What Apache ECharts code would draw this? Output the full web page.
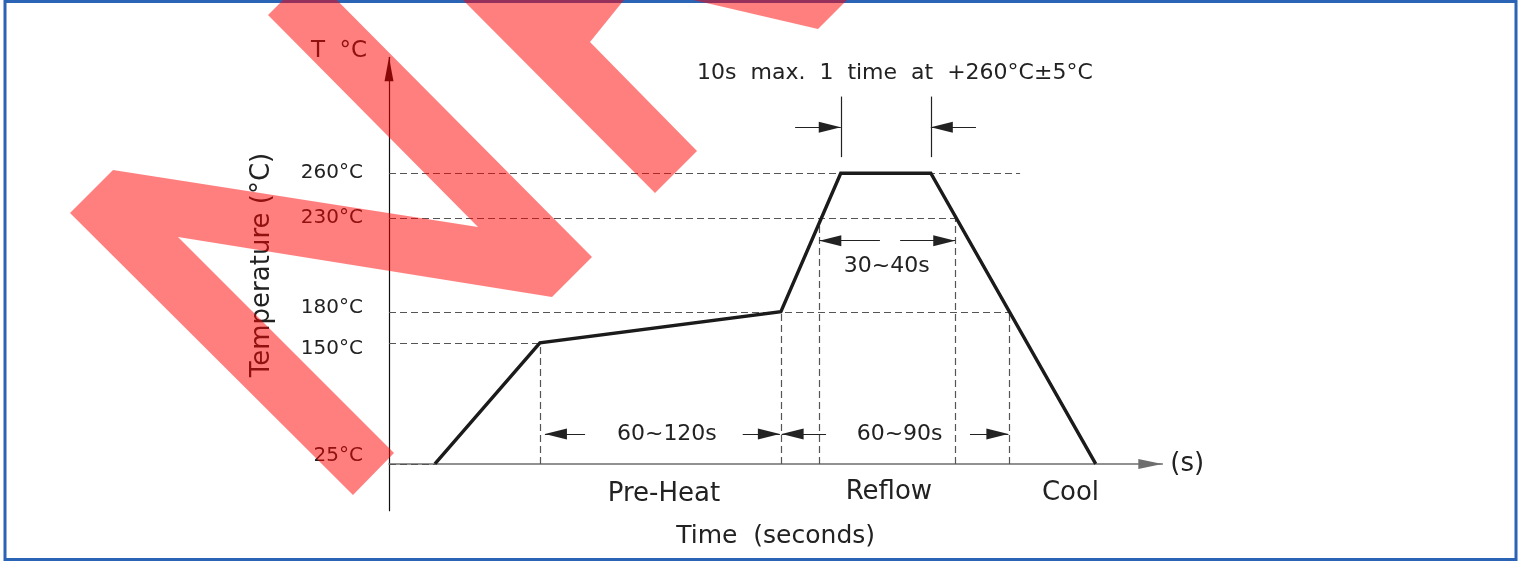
<!DOCTYPE html>
<html><head><meta charset="utf-8">
<script src="https://cdn.jsdelivr.net/npm/echarts@6/dist/echarts.min.js"></script>
<style>html,body{margin:0;padding:0;background:#fff}#c{width:1519px;height:561px}</style>
</head><body><div id="c"></div>
<script>
// Temperature levels (°C) marked on the y axis
const tempLevels = [25, 150, 180, 230, 260];
// Reflow profile (schematic time in s, temperature in °C)
const profileTime = [18.4, 60.5, 157.1, 181.1, 217.2, 283.3];
const profileTemp = [25, 150, 180, 260, 260, 25];
// Dashed level guides: level and the time where the guide ends
const guideLevel = [260, 230, 180, 150, 25];
const guideEnd = [253.0, 226.9, 248.5, 60.5, 18.4];
// Vertical dashed drops: time and the temperature they rise to
const dropTime = [60.5, 157.1, 172.5, 226.9, 248.5];
const dropTemp = [150, 180, 230, 230, 180];
// Dimension arrows: tail time, tip time, temperature level
const arrowTail = [162.8, 235.3, 196.8, 204.9, 78.6, 141.8, 175.2, 232.9];
const arrowTip  = [181.1, 217.2, 172.5, 227.0, 62.5, 156.7, 157.4, 248.3];
const arrowTemp = [284.6, 284.6, 218.0, 218.0, 41, 41, 41, 41];
// Extension lines of the 10 s window
const extTime = [181.1, 217.2];
const extTemp = [268.6, 301.0];
// Annotation texts
const noteText = ['10s  max.  1  time  at  +260°C±5°C', '30~40s', '60~120s', '60~90s', 'Pre-Heat', 'Reflow', 'Cool'];
const noteTime = [202.8, 199.5, 111.4, 204.7, 110.2, 200.4, 273.2];
const noteTemp = [313.5, 204.1, 41, 41, 8.8, 9.9, 9.3];
const noteSize = [22, 22, 22, 22, 26, 26, 26];

const FONT = 'DejaVu Sans';
const chart = echarts.init(document.getElementById('c'));

const guides = [];
guideLevel.forEach((v, i) => guides.push([{coord: [0, v]}, {coord: [guideEnd[i], v]}]));
dropTime.forEach((t, i) => guides.push([{coord: [t, 25]}, {coord: [t, dropTemp[i]]}]));

const arrows = [];
arrowTail.forEach((t, i) => arrows.push([
  {coord: [t, arrowTemp[i]], symbol: 'none'},
  {coord: [arrowTip[i], arrowTemp[i]], symbol: 'triangle', symbolSize: [11, 22], symbolOffset: [0, 11]}
]));
extTime.forEach(t => arrows.push([
  {coord: [t, extTemp[0]], symbol: 'none'},
  {coord: [t, extTemp[1]], symbol: 'none'}
]));

const labelRich = {
  base: {fontSize: 20, color: '#222', fontFamily: FONT},
  up: {fontSize: 20, color: '#222', fontFamily: FONT, padding: [0, 0, 16, 0]},
  up2: {fontSize: 20, color: '#222', fontFamily: FONT, padding: [0, 0, 8, 0]},
  down: {fontSize: 20, color: '#222', fontFamily: FONT, padding: [12, 0, 0, 0]}
};
const labelKey = {25: 'up', 150: 'down', 180: 'up2'};

const wm = 'rgba(255,0,0,0.5)';
chart.setOption({
  animation: false,
  backgroundColor: '#fff',
  textStyle: {fontFamily: FONT},
  grid: {left: 389, top: 57.3, width: 773.3, height: 453.4, containLabel: false, outerBoundsMode: 'none'},
  xAxis: [{
    type: 'value', min: 0, max: 310, offset: -46.7,
    axisLine: {show: true, lineStyle: {color: '#6e6e6e', width: 1.5},
      symbol: ['none', 'triangle'], symbolSize: [10, 24], symbolOffset: [0, -12]},
    axisTick: {show: false}, axisLabel: {show: false}, splitLine: {show: false},
    name: '(s)', nameLocation: 'end', nameGap: 8,
    nameTextStyle: {fontSize: 26, color: '#222', fontFamily: FONT, padding: [12, 0, 0, 0]}
  }, {
    type: 'value', min: 0, max: 310, offset: -46.7, position: 'bottom',
    axisLine: {show: false}, axisTick: {show: false}, axisLabel: {show: false}, splitLine: {show: false},
    name: 'Time  (seconds)', nameLocation: 'middle', nameGap: 60,
    nameTextStyle: {fontSize: 25, color: '#222', fontFamily: FONT}
  }],
  yAxis: [{
    type: 'value', min: 0, max: 322,
    breaks: [
      {start: 60, end: 140, gap: 19.8},
      {start: 155, end: 175, gap: 6.6},
      {start: 235, end: 255, gap: 14.1}
    ],
    breakArea: {show: false, itemStyle: {opacity: 0, borderWidth: 0}},
    axisLine: {show: false},
    axisTick: {show: false}, splitLine: {show: false},
    axisLabel: {customValues: tempLevels,
      formatter: v => '{' + (labelKey[v] || 'base') + '|' + v + '°C}',
      rich: labelRich, margin: 26, fontSize: 20, color: '#222', fontFamily: FONT},
    name: 'T  °C', nameLocation: 'end', nameGap: -5,
    nameTextStyle: {fontSize: 23, color: '#222', fontFamily: FONT, padding: [0, 100, 0, 0]}
  }, {
    type: 'value', min: 0, max: 322, position: 'left',
    axisLine: {show: true, lineStyle: {color: '#111', width: 1.2},
      symbol: ['none', 'triangle'], symbolSize: [9, 24], symbolOffset: [0, -12]},
    axisTick: {show: false}, axisLabel: {show: false}, splitLine: {show: false},
    name: 'Temperature (°C)', nameLocation: 'middle', nameGap: 114,
    nameTextStyle: {fontSize: 26, color: '#222', fontFamily: FONT, padding: [0, 0, 0, 38]}
  }],
  series: [{
    type: 'line', name: 'profile',
    data: profileTime.map((t, i) => [t, profileTemp[i]]),
    symbol: 'none', z: 5,
    lineStyle: {color: '#1b1b1b', width: 3.4, join: 'miter'},
    markLine: {silent: true, symbol: ['none', 'none'], label: {show: false},
      lineStyle: {type: [7, 4], color: '#555', width: 1.2}, data: guides}
  }, {
    type: 'line', name: 'dims', data: [], color: '#111',
    markLine: {silent: true, symbol: ['none', 'none'], label: {show: false},
      itemStyle: {color: '#111'},
      lineStyle: {type: 'solid', color: '#222', width: 1.2}, data: arrows}
  }, {
    type: 'scatter', name: 'notes', symbol: 'circle', symbolSize: 1,
    itemStyle: {color: 'rgba(0,0,0,0)', opacity: 1},
    data: noteTime.map((t, i) => ({value: [t, noteTemp[i]], name: noteText[i],
      label: {fontSize: noteSize[i]}})),
    label: {show: true, position: 'inside', formatter: p => p.name, color: '#222', opacity: 1,
      fontFamily: FONT, align: 'center', verticalAlign: 'middle'}
  }],
  graphic: [
    {type: 'rect', silent: true, z: 50,
      shape: {x: 5, y: 1.5, width: 1511, height: 558},
      style: {fill: 'none', stroke: '#2b63b5', lineWidth: 3}},
    {type: 'polygon', silent: true, z: 100, style: {fill: wm},
      shape: {points: [[113,170],[478,227],[268,15],[310,-27],[592,257],[552,297],[178,237],[394,453],[353,495],[70,213]]}},
    {type: 'polygon', silent: true, z: 100, style: {fill: wm},
      shape: {points: [[453,-10],[655,193],[697,151],[590,42],[632,-10]]}},
    {type: 'polygon', silent: true, z: 100, style: {fill: wm},
      shape: {points: [[672,-5],[818,29],[852,-5]]}}
  ]
});
</script></body></html>
